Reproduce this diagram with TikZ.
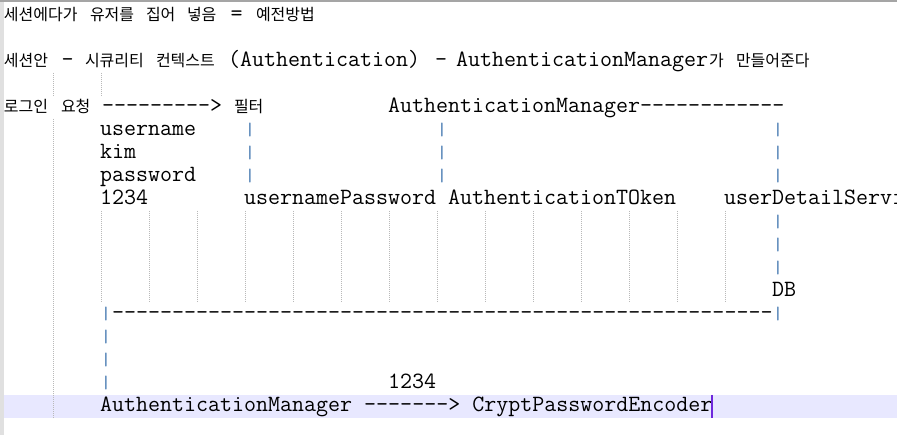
\documentclass[tikz,border=0pt]{standalone}
\usepackage{fontspec}
\newfontfamily\krfont{Noto Sans CJK KR}
\definecolor{pipeblue}{RGB}{40,100,165}
\definecolor{curline}{RGB}{232,232,255}
\definecolor{caretc}{RGB}{110,40,220}
\definecolor{topline}{RGB}{165,165,165}
\definecolor{leftstrip}{RGB}{224,224,224}
\definecolor{guidec}{RGB}{185,185,185}
\tikzset{
  tt/.style={anchor=base west, inner sep=0pt, outer sep=0pt, font=\ttfamily\fontsize{23.32}{23}\selectfont},
  kr/.style={anchor=base west, inner sep=0pt, outer sep=0pt, font=\krfont\fontsize{16}{23}\selectfont},
  pipechar/.style={anchor=center, inner sep=0pt, outer sep=0pt, text=pipeblue, font=\ttfamily\fontsize{18}{18}\selectfont},
  guide/.style={draw=guidec, line width=1pt, dash pattern=on 1pt off 1pt},
}
\begin{document}
\begin{tikzpicture}[x=1pt,y=-1pt]
\useasboundingbox (0,0) rectangle (897,435);
\begin{scope}
\clip (0,0) rectangle (897,435);
\fill[white] (0,0) rectangle (897,435);
\fill[curline] (4,395) rectangle (897,418);
\fill[topline] (0,0) rectangle (897,2);
\fill[leftstrip] (0,2) rectangle (4,435);
% indent guides
\draw[guide] (53,73) -- (53,96);
\draw[guide] (101,73) -- (101,96);
\draw[guide] (53,119) -- (53,418);
\foreach \gx in {101,149,...,725} {\draw[guide] (\gx,211) -- (\gx,303);}
% row 1 (baseline 20.7)
\node[kr] (r1a) at (4,20.7) {세션에다가};
\node[kr] (r1b) at (90,20.7) {유저를};
\node[kr] (r1c) at (146,20.7) {집어};
\node[kr] (r1d) at (187,20.7) {넣음};
\node[tt] (r1e) at (230.5,20.7) {=};
\node[kr] (r1f) at (256,20.7) {예전방법};
% row 3 (baseline 66.7)
\node[kr] (r3a) at (4,66.7) {세션안};
\node[tt] (r3b) at (61.5,66.7) {-};
\node[kr] (r3c) at (85,66.7) {시큐리티};
\node[kr] (r3d) at (156,66.7) {컨텍스트};
\node[tt] (r3e) at (228,66.7) {(Authentication)};
\node[tt] (r3f) at (435,66.7) {-};
\node[tt] (r3g) at (456,66.7) {AuthenticationManager};
\node[kr] (r3h) at (709,66.7) {가};
\node[kr] (r3i) at (736,66.7) {만들어준다};
% row 5 (baseline 112.7)
\node[kr] (r5a) at (4,112.7) {로그인};
\node[kr] (r5b) at (61,112.7) {요청};
\node[tt] (r5c) at (102,112.7) {--{}--{}--{}--{}-{}>};
\node[kr] (r5d) at (234,112.7) {필터};
\node[tt] (r5e) at (388,112.7) {AuthenticationManager--{}--{}--{}--{}--{}--{}};
% rows 6-8
\node[tt] (r6a) at (100,135.7) {username};
\node[tt] (r7a) at (100,158.7) {kim};
\node[tt] (r8a) at (100,181.7) {password};
\foreach \by in {135.7,158.7,181.7} {
  \node[pipechar] at (250,\by-5.5) {|};
  \node[pipechar] at (442,\by-5.5) {|};
  \node[pipechar] at (778,\by-5.5) {|};
}
% row 9 (baseline 204.7)
\node[tt] (r9a) at (100,204.7) {1234};
\node[tt] (r9b) at (244,204.7) {usernamePassword};
\node[tt] (r9c) at (448,204.7) {AuthenticationTOken};
\node[tt] (r9d) at (724,204.7) {userDetailService};
% rows 10-12
\foreach \by in {227.7,250.7,273.7} {\node[pipechar] at (778,\by-5.5) {|};}
% row 13
\node[tt] (r13a) at (772,296.7) {DB};
% row 14 (baseline 319.7)
\node[pipechar] (r14a) at (106,314.2) {|};
\node[tt] (r14b) at (112,319.7) {--{}--{}--{}--{}--{}--{}--{}--{}--{}--{}--{}--{}--{}--{}--{}--{}--{}--{}--{}--{}--{}--{}--{}--{}--{}--{}--{}-};
\node[pipechar] (r14c) at (778,314.2) {|};
% rows 15-17
\node[pipechar] (r15a) at (106,337.2) {|};
\node[pipechar] (r16a) at (106,360.2) {|};
\node[pipechar] (r17a) at (106,383.2) {|};
\node[tt] (r17b) at (388,388.7) {1234};
% row 18 (baseline 411.7)
\node[tt] (r18a) at (100,411.7) {AuthenticationManager --{}--{}--{}-{}> CryptPasswordEncoder};
\draw[caretc, line width=1.2pt] (712,395) -- (712,418);
\end{scope}
\end{tikzpicture}
\end{document}
